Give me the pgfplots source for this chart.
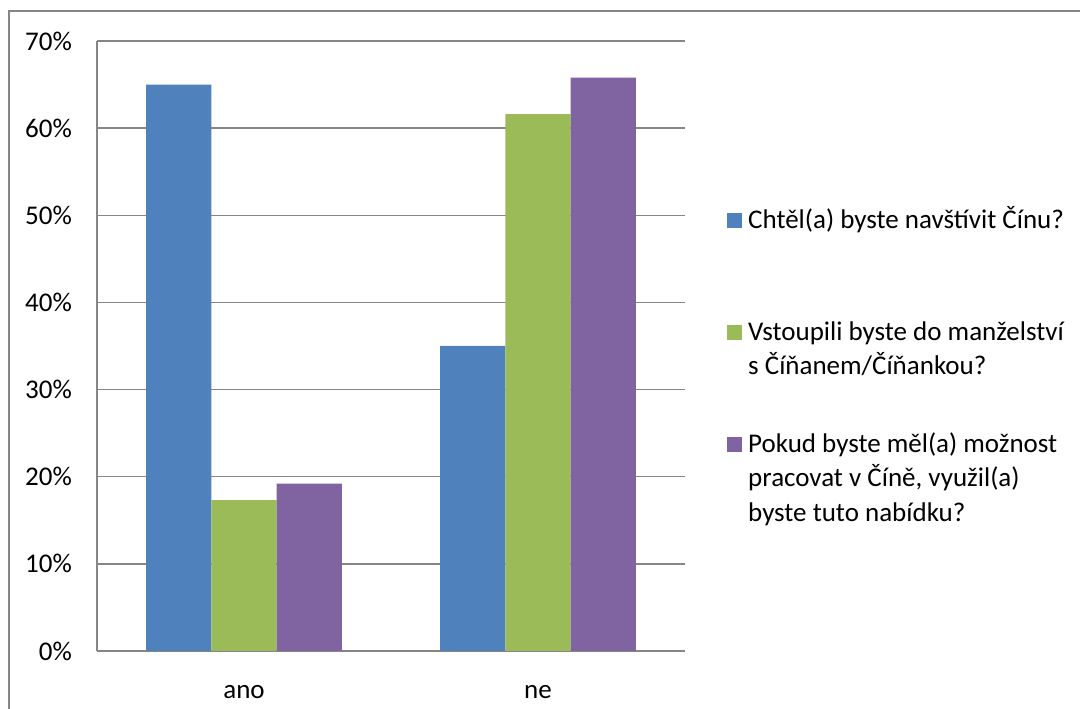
\documentclass[border=0pt]{standalone}
\usepackage{pgfplots}
\pgfplotsset{compat=1.18}
\usepackage{fontspec}
\setmainfont{Carlito}
\definecolor{cblue}{HTML}{4F81BD}
\definecolor{cgreen}{HTML}{9BBB59}
\definecolor{cpurple}{HTML}{8064A2}
\definecolor{cgrid}{HTML}{868686}
\newcommand{\lfont}{\fontsize{27bp}{34.5bp}\selectfont}
\newcommand{\lentry}[1]{\parbox[t][112bp][t]{345bp}{\raggedright\strut #1}}
\pgfplotsset{sq legend/.style={legend image code/.code={\fill[##1,draw=none] (0bp,0bp) rectangle (15bp,15bp);}}}
\begin{document}
\begin{tikzpicture}
\useasboundingbox (0,0) rectangle (1080bp,709bp);
\draw[cgrid, line width=1.5bp] (9bp,0) -- (9bp,698bp) -- (1080bp,698bp);
\begin{axis}[
  at={(97bp,58bp)}, anchor=south west,
  scale only axis, width=588bp, height=610bp,
  ybar=0pt, bar width=65.3bp,
  xmin=-0.5, xmax=1.5, ymin=0, ymax=70,
  xtick={0,1}, xticklabels={ano,ne},
  ytick={0,10,...,70}, yticklabels={0\%,10\%,20\%,30\%,40\%,50\%,60\%,70\%},
  axis lines*=left,
  axis line style={cgrid, line width=1.5bp, -},
  major tick length=0pt,
  ymajorgrids, grid style={cgrid, line width=1.5bp},
  yticklabel style={font=\lfont, anchor=east, inner sep=0pt, xshift=-25bp},
  xticklabel style={font=\lfont, anchor=base, inner sep=0pt, yshift=-47bp},
  legend style={at={(1.07143,0.7330)}, anchor=north west, draw=none, fill=none,
    inner sep=0pt, font=\lfont, cells={anchor=base west},
    nodes={inner sep=0pt, text depth=}, column sep=6bp, row sep=0pt},
]
\addplot[fill=cblue, draw=none, sq legend] coordinates {(0,65.0) (1,35.0)};
\addplot[fill=cgreen, draw=none, sq legend] coordinates {(0,17.3) (1,61.6)};
\addplot[fill=cpurple, draw=none, sq legend] coordinates {(0,19.2) (1,65.8)};
\addlegendentry{\lentry{Chtěl(a) byste navštívit Čínu?}}
\addlegendentry{\lentry{Vstoupili byste do manželství\\s Číňanem/Číňankou?}}
\addlegendentry{\lentry{Pokud byste měl(a) možnost\\pracovat v Číně, využil(a)\\byste tuto nabídku?}}
\end{axis}
\end{tikzpicture}
\end{document}
